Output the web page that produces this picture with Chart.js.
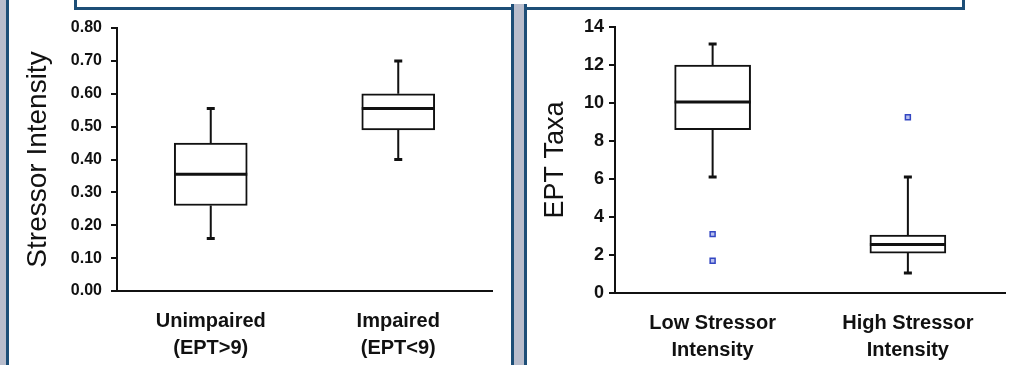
<!DOCTYPE html>
<html>
<head>
<meta charset="utf-8">
<script src="https://cdn.jsdelivr.net/npm/chart.js@4"></script>
<style>
  body { margin: 0; background: #fff; }
  #wrap { position: relative; width: 1010px; height: 365px; overflow: hidden; background: #fff; }
  .panel { position: absolute; top: 0; height: 365px; }
  .deco { position: absolute; z-index: 5; }
</style>
</head>
<body>
<div id="wrap">
  <div class="panel" style="left:0;width:505px"><canvas id="leftChart" width="505" height="365"></canvas></div>
  <div class="panel" style="left:505px;width:506px"><canvas id="rightChart" width="506" height="365"></canvas></div>

  <!-- frame bits around the two panels -->
  <div class="deco" style="left:0;top:0;width:6px;height:365px;background:#b9bdcc"></div>
  <div class="deco" style="left:6px;top:0;width:3px;height:365px;background:#1d4e77"></div>
  <div class="deco" style="left:74px;top:-10px;width:885px;height:14px;border:3px solid #1d4e77;background:#fff"></div>
  <div class="deco" style="left:511px;top:4px;width:3px;height:361px;background:#1d4e77"></div>
  <div class="deco" style="left:514px;top:4px;width:10px;height:361px;background:#b9bdcc"></div>
  <div class="deco" style="left:524px;top:4px;width:3px;height:361px;background:#1d4e77"></div>
</div>

<script>
// left panel: stressor intensity by EPT condition
const leftCategories = [["Unimpaired", "(EPT>9)"], ["Impaired", "(EPT<9)"]];
const leftMin = [0.16, 0.40];
const leftQ1 = [0.26, 0.49];
const leftMedian = [0.355, 0.555];
const leftQ3 = [0.45, 0.60];
const leftMax = [0.555, 0.70];

// right panel: EPT taxa by stressor level
const rightCategories = [["Low Stressor", "Intensity"], ["High Stressor", "Intensity"]];
const rightMin = [6.1, 1.05];
const rightQ1 = [8.6, 2.1];
const rightMedian = [10.05, 2.55];
const rightQ3 = [12.0, 3.05];
const rightMax = [13.1, 6.1];
const outlierCategory = [0, 0, 1];
const outlierValue = [3.1, 1.7, 9.25];

const fontFamily = "'Liberation Sans', Arial, sans-serif";

// draws medians, whiskers and caps using the chart's own scales
const whiskerPlugin = {
    id: "whiskers",
    afterDatasetsDraw(chart, args, opts) {
        const ctx = chart.ctx;
        const y = chart.scales.y;
        const meta = chart.getDatasetMeta(0);
        ctx.save();
        ctx.strokeStyle = "#111";
        meta.data.forEach((bar, i) => {
            const x = bar.x;
            const half = bar.width / 2;
            const yMin = y.getPixelForValue(opts.min[i]);
            const yQ1 = y.getPixelForValue(opts.q1[i]);
            const yMed = y.getPixelForValue(opts.median[i]);
            const yQ3 = y.getPixelForValue(opts.q3[i]);
            const yMax = y.getPixelForValue(opts.max[i]);

            ctx.lineWidth = 2;
            ctx.beginPath();
            ctx.moveTo(x, yQ3); ctx.lineTo(x, yMax);
            ctx.moveTo(x, yQ1); ctx.lineTo(x, yMin);
            ctx.stroke();

            ctx.lineWidth = 3;
            ctx.beginPath();
            ctx.moveTo(x - 4, yMax); ctx.lineTo(x + 4, yMax);
            ctx.moveTo(x - 4, yMin); ctx.lineTo(x + 4, yMin);
            ctx.moveTo(x - half, yMed); ctx.lineTo(x + half, yMed);
            ctx.stroke();
        });
        ctx.restore();
    }
};

function boxChart(canvasId, cfg) {
    const datasets = [{
        type: "bar",
        data: cfg.q1.map((v, i) => [v, cfg.q3[i]]),
        backgroundColor: "#fff",
        borderColor: "#111",
        borderWidth: 2,
        borderSkipped: false,
        barThickness: cfg.barThickness
    }];
    if (cfg.outliers) {
        // x is the category index, so skip parsing
        datasets.push({
            type: "line",
            parsing: false,
            data: cfg.outliers,
            showLine: false,
            pointStyle: "rect",
            pointRadius: 3.5,
            pointBorderWidth: 1.5,
            pointBorderColor: "#3346c2",
            pointBackgroundColor: "#b8c0ee"
        });
    }

    return new Chart(document.getElementById(canvasId), {
        type: "bar",
        data: { labels: cfg.labels, datasets: datasets },
        plugins: [whiskerPlugin],
        options: {
            responsive: false,
            animation: false,
            layout: { padding: { top: cfg.top, right: cfg.right, left: 0, bottom: 0 } },
            plugins: {
                legend: { display: false },
                tooltip: { enabled: false },
                whiskers: { min: cfg.min, q1: cfg.q1, median: cfg.median, q3: cfg.q3, max: cfg.max }
            },
            scales: {
                x: {
                    offset: true,
                    grid: { display: false, drawTicks: false },
                    border: { display: true, color: "#111", width: 2 },
                    ticks: {
                        color: "#111",
                        padding: 17,
                        maxRotation: 0,
                        font: { family: fontFamily, size: 20, weight: "bold", lineHeight: 1.35 }
                    },
                    afterFit: (scale) => { scale.height = cfg.xHeight; }
                },
                y: {
                    min: cfg.yMin,
                    max: cfg.yMax,
                    grid: { drawOnChartArea: false, drawTicks: true, tickLength: 6, color: "#111", lineWidth: 2 },
                    border: { display: true, color: "#111", width: 2 },
                    ticks: {
                        stepSize: cfg.step,
                        color: "#111",
                        padding: cfg.tickPad,
                        font: { family: fontFamily, size: cfg.tickSize, weight: "bold" },
                        callback: cfg.tickFormat
                    },
                    title: {
                        display: true,
                        text: cfg.title,
                        color: "#111",
                        padding: { top: cfg.titlePad, bottom: 0 },
                        font: { family: fontFamily, size: cfg.titleSize, lineHeight: 1.2 }
                    },
                    afterFit: (scale) => { scale.width = cfg.yWidth; }
                }
            }
        }
    });
}

boxChart("leftChart", {
    labels: leftCategories,
    min: leftMin, q1: leftQ1, median: leftMedian, q3: leftQ3, max: leftMax,
    yMin: 0, yMax: 0.8, step: 0.1,
    tickFormat: (v) => Number(v).toFixed(2),
    tickSize: 16, tickPad: 9,
    title: "Stressor Intensity", titleSize: 28, titlePad: 21,
    yWidth: 117, xHeight: 74, top: 28, right: 13,
    barThickness: 73
});

boxChart("rightChart", {
    labels: rightCategories,
    min: rightMin, q1: rightQ1, median: rightMedian, q3: rightQ3, max: rightMax,
    outliers: outlierCategory.map((c, i) => ({ x: c, y: outlierValue[i] })),
    yMin: 0, yMax: 14, step: 2,
    tickFormat: (v) => v,
    tickSize: 18, tickPad: 5,
    title: "EPT Taxa", titleSize: 27, titlePad: 34,
    yWidth: 110, xHeight: 72, top: 27, right: 0,
    barThickness: 76
});
</script>
</body>
</html>
